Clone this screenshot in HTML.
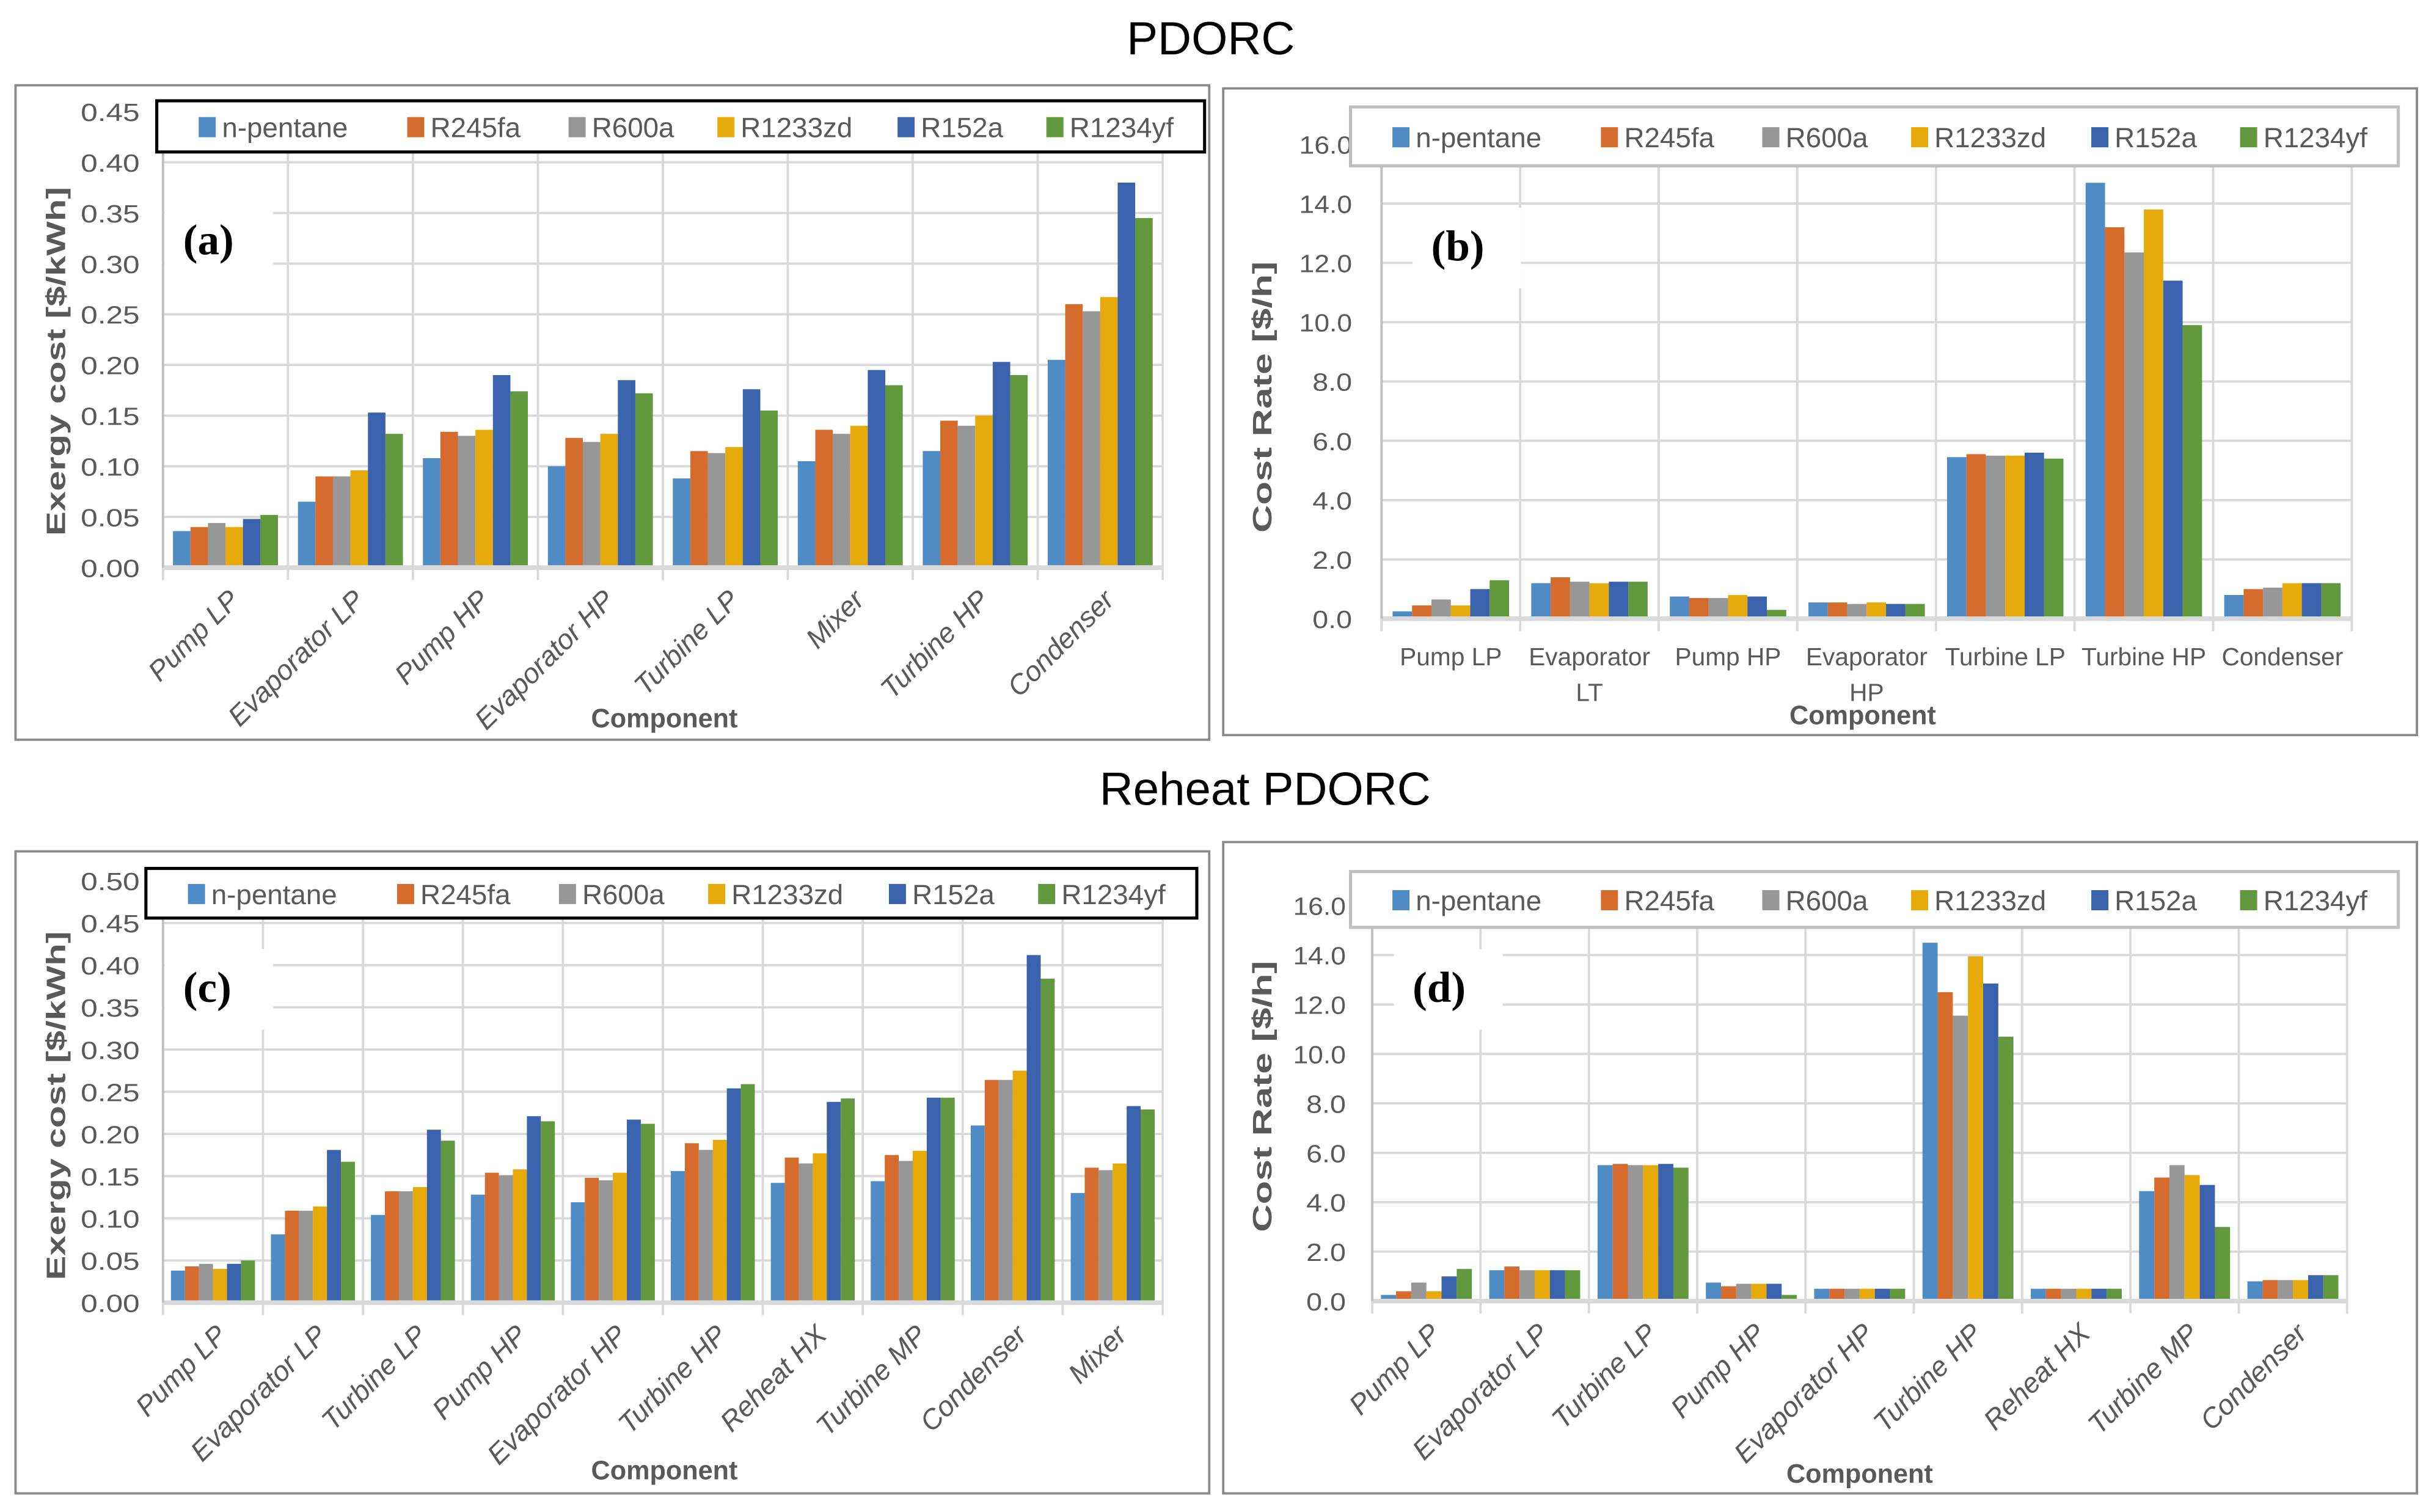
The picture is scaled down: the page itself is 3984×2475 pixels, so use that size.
<!DOCTYPE html>
<html><head><meta charset="utf-8"><style>
html,body{margin:0;padding:0;background:#fff}
svg{display:block}
</style></head><body>
<svg id="fig" width="3984" height="2475" viewBox="0 0 1568 975" preserveAspectRatio="none" xmlns="http://www.w3.org/2000/svg" font-family="Liberation Sans, sans-serif">
<rect x="0" y="0" width="1568" height="975" fill="#fff"/>
<text x="780" y="35" font-size="30" text-anchor="middle" fill="#000">PDORC</text>
<text x="815" y="519" font-size="30" text-anchor="middle" fill="#000">Reheat PDORC</text>
<g id="charts"></g>
</svg>
<script>
const seriesNames=["n-pentane","R245fa","R600a","R1233zd","R152a","R1234yf"];
const colors=["#4f8bc4","#d56b2c","#979797","#e6aa0b","#3b63ad","#62993f"];

const catsA=["Pump LP","Evaporator LP","Pump HP","Evaporator HP","Turbine LP","Mixer","Turbine HP","Condenser"];
const valsA=[[.036,.040,.044,.040,.048,.052],[.065,.090,.090,.096,.153,.132],[.108,.134,.130,.136,.190,.174],[.100,.128,.124,.132,.185,.172],[.088,.115,.113,.119,.176,.155],[.105,.136,.132,.140,.195,.180],[.115,.145,.140,.150,.203,.190],[.205,.260,.253,.267,.380,.345]];
const ticksA=["0.00","0.05","0.10","0.15","0.20","0.25","0.30","0.35","0.40","0.45"];

const catsB=["Pump LP","Evaporator|LT","Pump HP","Evaporator|HP","Turbine LP","Turbine HP","Condenser"];
const valsB=[[.25,.45,.65,.45,1.0,1.3],[1.2,1.4,1.25,1.2,1.25,1.25],[.75,.7,.7,.8,.75,.3],[.55,.55,.5,.55,.5,.5],[5.45,5.55,5.5,5.5,5.6,5.4],[14.7,13.2,12.35,13.8,11.4,9.9],[.8,1.0,1.05,1.2,1.2,1.2]];
const ticksB=["0.0","2.0","4.0","6.0","8.0","10.0","12.0","14.0","16.0"];

const catsC=["Pump LP","Evaporator LP","Turbine LP","Pump HP","Evaporator HP","Turbine HP","Reheat HX","Turbine MP","Condenser","Mixer"];
const valsC=[[.038,.043,.046,.040,.046,.050],[.081,.109,.109,.114,.181,.167],[.104,.132,.132,.137,.205,.192],[.128,.154,.151,.158,.221,.215],[.119,.148,.145,.154,.217,.212],[.156,.189,.181,.193,.254,.259],[.142,.172,.165,.177,.238,.242],[.144,.175,.168,.180,.243,.243],[.210,.264,.264,.275,.412,.384],[.130,.160,.157,.165,.233,.229]];
const ticksC=["0.00","0.05","0.10","0.15","0.20","0.25","0.30","0.35","0.40","0.45","0.50"];

const catsD=["Pump LP","Evaporator LP","Turbine LP","Pump HP","Evaporator HP","Turbine HP","Reheat HX","Turbine MP","Condenser"];
const valsD=[[.25,.4,.75,.4,1.0,1.3],[1.25,1.4,1.25,1.25,1.25,1.25],[5.5,5.55,5.5,5.5,5.55,5.4],[.75,.6,.7,.7,.7,.25],[.5,.5,.5,.5,.5,.5],[14.5,12.5,11.55,13.95,12.85,10.7],[.5,.5,.5,.5,.5,.5],[4.45,5.0,5.5,5.1,4.7,3.0],[.8,.85,.85,.85,1.05,1.05]];
const ticksD=["0.0","2.0","4.0","6.0","8.0","10.0","12.0","14.0","16.0"];

const NS="http://www.w3.org/2000/svg";
const root=document.getElementById('charts');
function mk(tag,attrs,parent){const e=document.createElementNS(NS,tag);for(const k in attrs)e.setAttribute(k,attrs[k]);(parent||root).appendChild(e);return e;}
const legFrac=[.04,.239,.393,.535,.707,.849];

function chart(o){
  const g=mk('g',{});
  
  
  const box=mk('rect',{x:o.box[0],y:o.box[1],width:o.box[2]-o.box[0],height:o.box[3]-o.box[1],fill:'#fff',stroke:'#8a8a8a','stroke-width':1.5},g);
  
  
  const x0=o.plot[0],x1=o.plot[1],y0=o.plot[2],y1=o.plot[3];
  const nT=o.ticks.length-1;
  const yMax=parseFloat(o.ticks[nT]);
  const ys=v=>y0-(v/yMax)*(y0-y1);
  const cw=(x1-x0)/o.cats.length;
  const xs=i=>x0+i*cw;
  o.ticks.forEach((t,i)=>{
    const y=ys(parseFloat(t));
    if(i>0){const l=mk('line',{x1:x0,x2:x1,y1:y,y2:y,stroke:'#d9d9d9','stroke-width':1.5},g);
      }
    const tx=mk('text',{x:o.tickX,y:y+6,'font-size':16,'text-anchor':'end',fill:'#595959',textLength:o.tickW*t.length/4,lengthAdjust:'spacingAndGlyphs'},g);
    tx.textContent=t;
    
    
  });
  for(let i=0;i<=o.cats.length;i++){
    const l=mk('line',{x1:xs(i),x2:xs(i),y1:y1,y2:y0+8,stroke:'#d9d9d9','stroke-width':1.5},g);
    
    
  }
  const gw=cw*0.84, bw=gw/6;
  o.vals.forEach((row,i)=>{
    row.forEach((v,s)=>{
      const bx=xs(i)+(cw-gw)/2+s*bw;
      const r=mk('rect',{x:bx,y:ys(v),width:bw,height:y0-ys(v),fill:colors[s]},g);
      
      
    });
  });
  const ax=mk('line',{x1:x0,x2:x1,y1:y0,y2:y0,stroke:'#d9d9d9','stroke-width':3},g);
  
  
  const yax=mk('line',{x1:x0,x2:x0,y1:y1,y2:y0,stroke:'#bfbfbf','stroke-width':1.5},g);
  
  
  o.cats.forEach((c,i)=>{
    const cx=xs(i)+cw/2;
    if(o.rot){
      const t=mk('text',{x:cx+10,y:y0+22,'font-size':18,'font-style':'italic','text-anchor':'end',fill:'#595959',transform:`rotate(-45 ${cx+10} ${y0+22})`},g);
      t.textContent=c;
      
      
    } else {
      c.split('|').forEach((p,k)=>{
        const t=mk('text',{x:cx,y:y0+30+k*23,'font-size':16,'text-anchor':'middle',fill:'#595959'},g);
        t.textContent=p;
        
        
      });
    }
  });
  const xt=mk('text',{x:o.xtitle[0],y:o.xtitle[1],'font-size':17,'font-weight':'bold','text-anchor':'middle',fill:'#595959'},g);
  xt.textContent='Component';
  
  
  const yt=mk('text',{x:o.ytitle[0],y:o.ytitle[1],'font-size':17,'font-weight':'bold','text-anchor':'middle',fill:'#595959',textLength:o.ytitle[2],lengthAdjust:'spacingAndGlyphs',transform:`rotate(-90 ${o.ytitle[0]} ${o.ytitle[1]})`},g);
  yt.textContent=o.ylabel;
  
  
  const pl=mk('rect',{x:o.panel[0]-12,y:o.panel[1]-34,width:70,height:52,fill:'#fff'},g);
  
  
  const pt=mk('text',{x:o.panel[0],y:o.panel[1],'font-size':28,'font-weight':'bold',style:'font-family:"Liberation Serif",serif',fill:'#000'},g);
  pt.textContent=o.label;
  
  
  const L=o.legend;
  const lb=mk('rect',{x:L[0],y:L[1],width:L[2]-L[0],height:L[3]-L[1],fill:'#fff',stroke:o.legStroke,'stroke-width':2},g);
  
  
  const W=L[2]-L[0];
  seriesNames.forEach((n,s)=>{
    const lx=L[0]+legFrac[s]*W;
    const my=(L[1]+L[3])/2;
    const sw=mk('rect',{x:lx,y:my-6,width:11,height:13,fill:colors[s]},g);
    
    
    const t=mk('text',{x:lx+15,y:my+7,'font-size':18,fill:'#595959'},g);
    t.textContent=n;
    
    
  });
}

chart({name:'chart-a',label:'(a)',box:[10,55,779,477],plot:[105,749,366,72],cats:catsA,vals:valsA,ticks:ticksA,rot:true,tickX:90,tickW:38,
  xtitle:[428,469],ytitle:[42,233,225],ylabel:'Exergy cost [$/kWh]',panel:[118,164],legend:[101,65,776,98],legStroke:'#000'});
chart({name:'chart-b',label:'(b)',box:[788,57,1557,474],plot:[890,1515,399,93],cats:catsB,vals:valsB,ticks:ticksB,rot:false,tickX:871,tickW:34,
  xtitle:[1200,467],ytitle:[819,256,175],ylabel:'Cost  Rate [$/h]',panel:[922,168],legend:[870,69,1545,107],legStroke:'#bfbfbf'});
chart({name:'chart-c',label:'(c)',box:[10,549,779,963],plot:[105,749,840,568],cats:catsC,vals:valsC,ticks:ticksC,rot:true,tickX:90,tickW:38,
  xtitle:[428,954],ytitle:[42,713,225],ylabel:'Exergy cost [$/kWh]',panel:[118,646],legend:[94,560,771,592],legStroke:'#000'});
chart({name:'chart-d',label:'(d)',box:[788,543,1557,963],plot:[884,1512,839,584],cats:catsD,vals:valsD,ticks:ticksD,rot:true,tickX:867,tickW:34,
  xtitle:[1198,956],ytitle:[819,707,175],ylabel:'Cost  Rate [$/h]',panel:[910,646],legend:[870,562,1545,598],legStroke:'#bfbfbf'});
</script>
</body></html>
